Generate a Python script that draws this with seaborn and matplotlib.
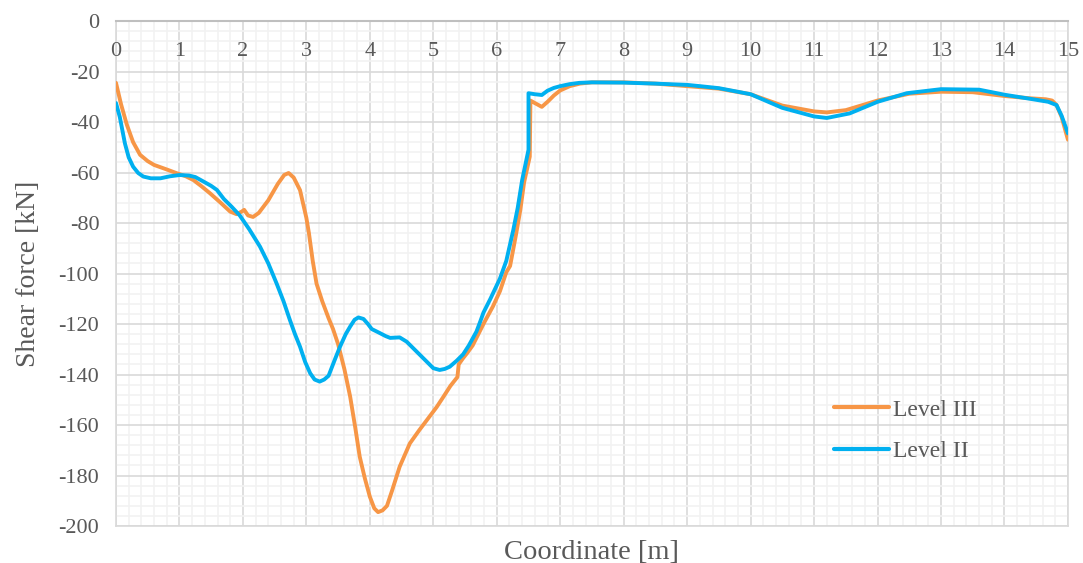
import numpy as np
import pandas as pd
import matplotlib
matplotlib.use("Agg")
import matplotlib.pyplot as plt
from matplotlib.ticker import MultipleLocator
import seaborn as sns

# Shear force along the member for the two load levels
level3_x = [0.0, 0.08, 0.17, 0.27, 0.38, 0.5, 0.6, 0.8, 0.96, 1.1, 1.22, 1.35, 1.48, 1.65,
            1.8, 1.9, 1.98, 2.02, 2.08, 2.16, 2.25, 2.4, 2.55, 2.65, 2.72, 2.8, 2.9, 3.0,
            3.04, 3.1, 3.16, 3.25, 3.35, 3.42, 3.5, 3.6, 3.69, 3.77, 3.84, 3.92, 4.0, 4.07,
            4.13, 4.2, 4.27, 4.35, 4.47, 4.63, 4.78, 4.9, 5.05, 5.16, 5.27, 5.38, 5.4, 5.47,
            5.53, 5.62, 5.68, 5.8, 5.94, 6.05, 6.15, 6.21, 6.3, 6.37, 6.43, 6.52, 6.53, 6.6,
            6.71, 6.8, 6.9, 7.0, 7.15, 7.31, 7.5, 8.0, 8.5, 9.0, 9.5, 10.0, 10.5, 11.0, 11.2,
            11.5, 12.0, 12.5, 13.0, 13.5, 14.0, 14.4, 14.65, 14.75, 14.82, 14.9, 15.0]
level3_v = [-24.5, -33, -41, -48, -53, -55.5, -57, -58.8, -60.3, -61.5, -63, -65.5, -68.2, -72,
            -75.5, -76.5, -75.5, -74.8, -77, -77.6, -76, -71, -64.5, -61, -60.2, -62, -67, -78,
            -84, -95, -104, -111, -117.7, -122, -128, -138, -148.8, -161, -172.5, -181, -188.4, -193,
            -194.5, -193.8, -192, -186, -176.5, -167.3, -162, -158, -153, -148.8, -144.5, -141, -136, -133.5,
            -131.6, -128.5, -125.5, -119.5, -113, -107, -99.5, -97, -85, -75, -64, -53.7, -31.5, -32.5,
            -34, -32, -29.5, -27.5, -25.8, -24.8, -24.3, -24.3, -24.8, -25.8, -26.8, -29, -33.5, -35.8, -36.2,
            -35.3, -31.5, -28.8, -28, -28.2, -29.7, -30.6, -31, -31.5, -33.3, -38, -47]

level2_x = [0.0, 0.06, 0.14, 0.2, 0.27, 0.35, 0.43, 0.55, 0.7, 0.85, 1.0, 1.15, 1.25, 1.38,
            1.5, 1.59, 1.7, 1.82, 1.95, 2.1, 2.27, 2.4, 2.53, 2.64, 2.74, 2.82, 2.9, 2.98,
            3.06, 3.13, 3.21, 3.28, 3.35, 3.45, 3.53, 3.62, 3.69, 3.76, 3.82, 3.9, 3.97, 4.03,
            4.15, 4.25, 4.32, 4.47, 4.58, 4.7, 4.8, 4.9, 5.0, 5.1, 5.18, 5.26, 5.37, 5.47,
            5.56, 5.68, 5.74, 5.79, 5.9, 6.05, 6.15, 6.26, 6.33, 6.4, 6.5, 6.5, 6.6, 6.71,
            6.8, 6.9, 7.0, 7.15, 7.3, 7.5, 8.0, 8.5, 9.0, 9.2, 9.5, 10.0, 10.5, 11.0, 11.2,
            11.56, 12.0, 12.46, 13.0, 13.6, 14.0, 14.45, 14.69, 14.82, 14.9, 15.0]
level2_v = [-32.5, -38, -48.4, -54, -57.7, -60.2, -61.6, -62.3, -62.3, -61.5, -61, -61.2, -61.8, -63.6,
            -65.3, -66.9, -70.5, -73.5, -77, -82.5, -89.4, -96, -103.9, -111, -118.4, -124, -129, -135,
            -139.5, -142, -142.8, -142, -140.5, -134, -129, -124, -121, -118.3, -117.4, -118, -120, -122,
            -123.5, -124.8, -125.5, -125.3, -127, -130, -132.5, -135, -137.5, -138.2, -137.8, -136.9, -134.5, -132,
            -128.5, -123, -119, -115.5, -110, -102, -95, -82.8, -74, -63, -51, -28.6, -29, -29.3,
            -27.6, -26.5, -25.8, -25, -24.5, -24.3, -24.4, -24.8, -25.3, -25.8, -26.6, -29, -34.4, -37.8, -38.4,
            -36.6, -32, -28.6, -27, -27.2, -29.2, -31, -32, -33.3, -37.5, -44.5]

series_names = ["Level III", "Level II"]
series_colors = ["#F79646", "#00B0F0"]

df = pd.concat([
    pd.DataFrame({"Coordinate": level3_x, "Shear": level3_v, "Series": series_names[0]}),
    pd.DataFrame({"Coordinate": level2_x, "Shear": level2_v, "Series": series_names[1]}),
], ignore_index=True)

sns.set_theme(style="white")
plt.rcParams["font.family"] = ["Liberation Serif", "DejaVu Serif"]
plt.rcParams["axes.unicode_minus"] = False
text_color = "#595959"

fig = plt.figure(figsize=(10.83, 5.63), dpi=100)
ax = fig.add_axes([0.1071, 0.0657, 0.8790, 0.8970])

sns.lineplot(data=df, x="Coordinate", y="Shear", hue="Series", hue_order=series_names,
             palette=series_colors, estimator=None, sort=False, linewidth=2.8, ax=ax,
             zorder=3)

ax.set_xlim(0, 15)
ax.set_ylim(-200, 0)
ax.xaxis.set_major_locator(MultipleLocator(1))
ax.xaxis.set_minor_locator(MultipleLocator(0.2))
ax.yaxis.set_major_locator(MultipleLocator(20))
ax.yaxis.set_minor_locator(MultipleLocator(4))

ax.grid(which="minor", color="#F2F2F2", linewidth=1.2, zorder=0)
ax.grid(which="major", color="#D9D9D9", linewidth=1.2, zorder=1)
ax.set_axisbelow(True)

for side in ["left", "right", "bottom"]:
    ax.spines[side].set_color("#D9D9D9")
    ax.spines[side].set_linewidth(1.2)
ax.spines["top"].set_color("#BFBFBF")
ax.spines["top"].set_linewidth(1.5)

ax.tick_params(axis="x", which="both", length=0, labelbottom=False, labeltop=False)
ax.tick_params(axis="y", which="both", length=0, pad=12, labelsize=16, labelcolor=text_color)

# category axis sits on the zero line; its labels hang just below it, above the grid
top = ax.twiny()
top.set_xlim(ax.get_xlim())
top.xaxis.set_major_locator(MultipleLocator(1))
top.xaxis.set_ticks_position("top")
top.tick_params(axis="x", length=0, labeltop=True, labelbottom=False,
                pad=-29, labelsize=16, labelcolor=text_color)
for lbl in top.get_xticklabels():
    lbl.set_verticalalignment("bottom")
for side in top.spines.values():
    side.set_visible(False)
top.grid(False)

ax.set_xlabel("Coordinate [m]", fontsize=20.5, color=text_color, labelpad=10)
ax.set_ylabel("Shear force [kN]", fontsize=20, color=text_color, labelpad=13)

leg = ax.legend(loc="lower right", bbox_to_anchor=(0.927, 0.084), frameon=False,
                fontsize=17, handlelength=2.3, handletextpad=0.2, labelspacing=0.85)
for t in leg.get_texts():
    t.set_color(text_color)
for h in leg.get_lines():
    h.set_linewidth(3)

fig.savefig("out.png", dpi=100)
